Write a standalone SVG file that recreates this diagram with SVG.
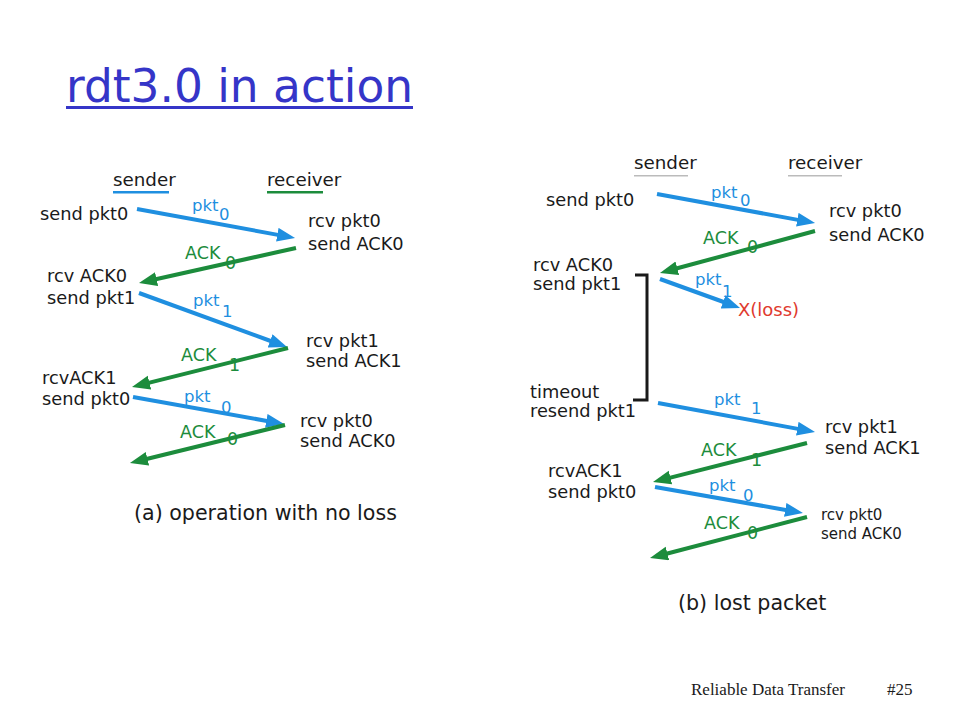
<svg xmlns="http://www.w3.org/2000/svg" width="960" height="720" viewBox="0 0 960 720">
<style>
text{font-family:"DejaVu Sans","Liberation Sans",sans-serif;fill:#1a1a1a}
.t{font-size:17.8px}
.s{font-size:15px}
.h{font-size:18.3px}
.bl{fill:#1f8fe0;font-size:16.5px}
.gr{fill:#1c8c3c;font-size:17.5px}
.cap{font-size:20.6px}
.cb{stroke:#1f8fe0;stroke-width:4;fill:none}
.cg{stroke:#1c8c3c;stroke-width:4;fill:none}
</style>
<defs>
<marker id="ab" markerUnits="userSpaceOnUse" markerWidth="20" markerHeight="16" refX="2" refY="7" orient="auto"><path d="M0,0 L18,7 L0,14 z" fill="#1f8fe0"/></marker>
<marker id="ag" markerUnits="userSpaceOnUse" markerWidth="20" markerHeight="16" refX="2" refY="7" orient="auto"><path d="M0,0 L18,7 L0,14 z" fill="#1c8c3c"/></marker>
</defs>
<rect width="960" height="720" fill="#ffffff"/>
<g id="title">
<text x="66" y="102" font-size="46" textLength="347" lengthAdjust="spacingAndGlyphs" style="fill:#3535c8">rdt3.0 in action</text>
<rect x="66" y="106" width="347" height="3" fill="#3535c8"/>
</g>
<g id="connectors">
<line class="cb" x1="137" y1="209" x2="279.3" y2="235.1" marker-end="url(#ab)"/>
<line class="cg" x1="296" y1="248" x2="154.6" y2="279.5" marker-end="url(#ag)"/>
<line class="cb" x1="139" y1="293" x2="272" y2="341.5" marker-end="url(#ab)"/>
<line class="cg" x1="288" y1="348" x2="147.5" y2="383.1" marker-end="url(#ag)"/>
<line class="cb" x1="133" y1="397" x2="268.3" y2="421.2" marker-end="url(#ab)"/>
<line class="cg" x1="285" y1="425" x2="145.5" y2="459.2" marker-end="url(#ag)"/>
<line class="cb" x1="657" y1="194" x2="799.3" y2="220.1" marker-end="url(#ab)"/>
<line class="cg" x1="815" y1="231" x2="675.4" y2="268.8" marker-end="url(#ag)"/>
<line class="cb" x1="660" y1="279" x2="725" y2="302.5" marker-end="url(#ab)"/>
<line class="cb" x1="658" y1="403" x2="799.3" y2="429.1" marker-end="url(#ab)"/>
<line class="cg" x1="807" y1="443" x2="668.5" y2="478.1" marker-end="url(#ag)"/>
<line class="cb" x1="655" y1="487" x2="787.2" y2="510.2" marker-end="url(#ab)"/>
<line class="cg" x1="807" y1="517" x2="665.5" y2="554" marker-end="url(#ag)"/>
<polyline points="635,275 647,275 647,400 633,400" fill="none" stroke="#1a1a1a" stroke-width="3"/>
</g>
<g id="connector-labels">
<text class="bl" x="192" y="211">pkt</text><text class="bl" x="219" y="220">0</text>
<text class="gr" x="185" y="259">ACK</text><text class="gr" x="225" y="269">0</text>
<text class="bl" x="193" y="306">pkt</text><text class="bl" x="222" y="317">1</text>
<text class="gr" x="181" y="361">ACK</text><text class="gr" x="229" y="371">1</text>
<text class="bl" x="184" y="402">pkt</text><text class="bl" x="221" y="413">0</text>
<text class="gr" x="180" y="438">ACK</text><text class="gr" x="227" y="445">0</text>
<text class="bl" x="711" y="198">pkt</text><text class="bl" x="740" y="206">0</text>
<text class="gr" x="703" y="244">ACK</text><text class="gr" x="747" y="253">0</text>
<text class="bl" x="695" y="285">pkt</text><text class="bl" x="722" y="297">1</text>
<text class="bl" x="714" y="405">pkt</text><text class="bl" x="751" y="414">1</text>
<text class="gr" x="701" y="456">ACK</text><text class="gr" x="751" y="466">1</text>
<text class="bl" x="709" y="491">pkt</text><text class="bl" x="743" y="501">0</text>
<text class="gr" x="704" y="529">ACK</text><text class="gr" x="747" y="539">0</text>
<text x="738" y="316" font-size="18" style="fill:#e03a2e">X(loss)</text>
</g>
<g id="a-sender"><text class="h" x="113" y="186">sender</text><rect x="113" y="191" width="56" height="2.5" fill="#1f8fe0"/></g>
<g id="a-receiver"><text class="h" x="267" y="186">receiver</text><rect x="267" y="191" width="56" height="2.5" fill="#1c8c3c"/></g>
<g id="a-s1"><text class="t" x="40" y="220">send pkt0</text></g>
<g id="a-r1"><text class="t" x="308" y="227">rcv pkt0</text><text class="t" x="308" y="250">send ACK0</text></g>
<g id="a-s2"><text class="t" x="47" y="282">rcv ACK0</text><text class="t" x="47" y="304">send pkt1</text></g>
<g id="a-r2"><text class="t" x="306" y="347">rcv pkt1</text><text class="t" x="306" y="367">send ACK1</text></g>
<g id="a-s3"><text class="t" x="42" y="384">rcvACK1</text><text class="t" x="42" y="405">send pkt0</text></g>
<g id="a-r3"><text class="t" x="300" y="427">rcv pkt0</text><text class="t" x="300" y="447">send ACK0</text></g>
<g id="a-caption"><text class="cap" x="134" y="520">(a) operation with no loss</text></g>
<g id="b-sender"><text class="h" x="634" y="169">sender</text><rect x="634" y="175" width="54" height="1.5" fill="#bbbbbb"/></g>
<g id="b-receiver"><text class="h" x="788" y="169">receiver</text><rect x="788" y="175" width="54" height="1.5" fill="#bbbbbb"/></g>
<g id="b-s1"><text class="t" x="546" y="206">send pkt0</text></g>
<g id="b-r1"><text class="t" x="829" y="217">rcv pkt0</text><text class="t" x="829" y="241">send ACK0</text></g>
<g id="b-s2"><text class="t" x="533" y="271">rcv ACK0</text><text class="t" x="533" y="290">send pkt1</text></g>
<g id="b-s3"><text class="t" x="530" y="398">timeout</text><text class="t" x="530" y="417">resend pkt1</text></g>
<g id="b-r2"><text class="t" x="825" y="433">rcv pkt1</text><text class="t" x="825" y="454">send ACK1</text></g>
<g id="b-s4"><text class="t" x="548" y="477">rcvACK1</text><text class="t" x="548" y="498">send pkt0</text></g>
<g id="b-r3"><text class="s" x="821" y="520">rcv pkt0</text><text class="s" x="821" y="539">send ACK0</text></g>
<g id="b-caption"><text class="cap" x="678" y="610">(b) lost packet</text></g>
<g id="footer">
<text x="691" y="695" font-size="17" style="font-family:'Liberation Serif',serif">Reliable Data Transfer</text>
<text x="887" y="695" font-size="17" style="font-family:'Liberation Serif',serif">#25</text>
</g>
</svg>
